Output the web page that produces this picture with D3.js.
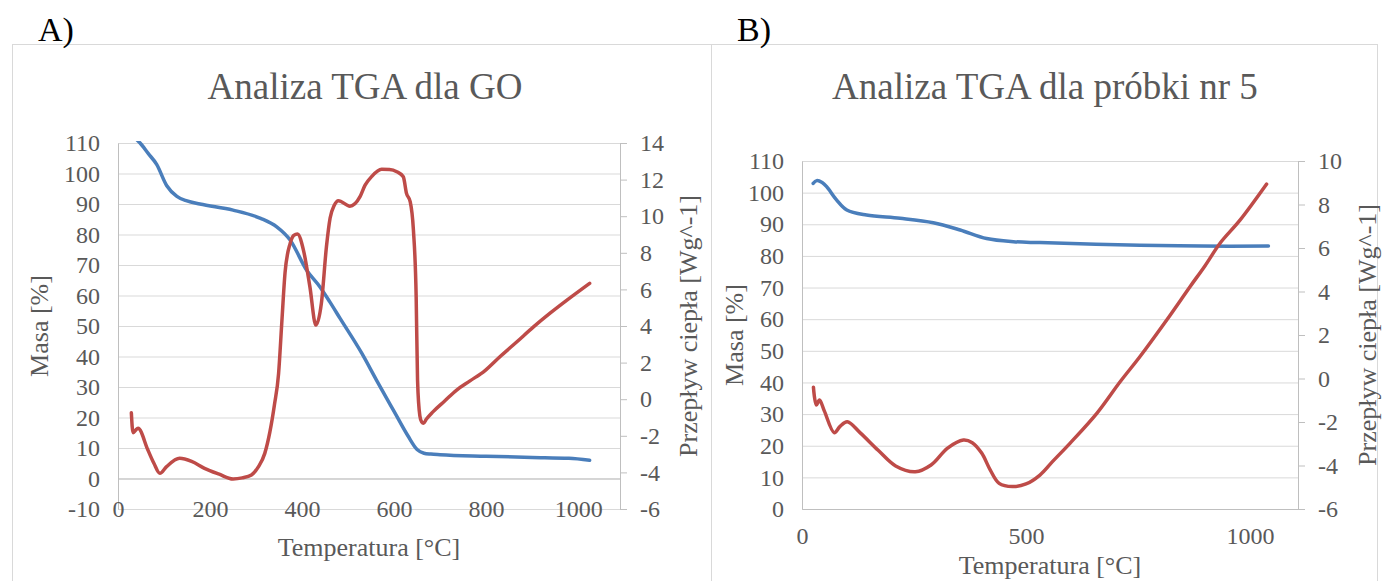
<!DOCTYPE html>
<html>
<head>
<meta charset="utf-8">
<script src="https://cdn.jsdelivr.net/npm/d3@7"></script>
<style>
  body { margin: 0; background: #fff; }
</style>
</head>
<body>
<script>
// A) GO
const tempMassA = [30, 48, 66, 84, 106, 128, 150, 178, 250, 310, 345, 374, 410, 439, 460, 483, 530, 562, 600, 630, 650, 665, 680, 700, 800, 900, 980, 1025];
const massA     = [112.5, 110, 106.5, 103, 96, 92.5, 91, 90, 88, 85.3, 82.5, 78.2, 68.3, 62.8, 58, 52.4, 41, 32.2, 22, 14, 9.5, 8.3, 8, 7.8, 7.3, 6.9, 6.6, 6.0];
const tempHeatA = [29, 32.6, 38, 43.5, 65, 78, 91, 105, 134, 160, 188, 220, 250, 270, 290, 305, 319, 330, 340, 349, 356, 363, 374, 382, 390, 403, 417, 430, 442, 453, 461, 470, 479, 504, 526, 537, 551, 573, 590, 606, 620, 627, 635, 642, 648, 651, 656, 660, 664, 670, 685, 710, 736, 765, 797, 830, 867, 903, 939, 975, 1025];
const heatA     = [-0.74, -1.83, -1.7, -1.59, -2.78, -3.5, -4.05, -3.7, -3.23, -3.4, -3.78, -4.1, -4.36, -4.3, -4.14, -3.7, -2.96, -1.8, -0.3, 1.4, 4.2, 6.9, 8.5, 8.95, 9.03, 8.15, 6.15, 4.05, 5.24, 8.33, 9.9, 10.6, 10.85, 10.55, 11.07, 11.7, 12.16, 12.56, 12.55, 12.43, 12.16, 11.25, 10.8, 9.25, 5.6, 1.05, -0.9, -1.25, -1.32, -1.1, -0.68, -0.1, 0.5, 1.0, 1.55, 2.32, 3.14, 3.95, 4.7, 5.4, 6.33];

// B) próbka nr 5
const tempMassB = [25, 33, 45, 55, 77, 100, 144, 219, 293, 353, 412, 472, 531, 754, 892, 1041];
const massB     = [102.9, 103.8, 103.2, 101.9, 97.7, 94.5, 92.9, 91.9, 90.5, 88.2, 85.5, 84.5, 84.2, 83.4, 83.1, 83.1];
const tempHeatB = [25.5, 32, 39, 50, 72, 85, 101, 130, 170, 209, 253, 288, 325, 360, 380, 401, 420, 440, 470, 500, 531, 560, 598, 658, 710, 754, 814, 866, 900, 933, 978, 1037];
const heatB     = [-0.4, -1.22, -0.99, -1.5, -2.49, -2.2, -1.99, -2.5, -3.3, -4.02, -4.29, -3.98, -3.2, -2.83, -2.95, -3.43, -4.2, -4.82, -4.97, -4.85, -4.44, -3.8, -2.98, -1.6, -0.15, 1.0, 2.69, 4.22, 5.2, 6.22, 7.29, 8.94];

// axis ticks
const massTicksA = [-10, 0, 10, 20, 30, 40, 50, 60, 70, 80, 90, 100, 110];
const heatTicksA = [-6, -4, -2, 0, 2, 4, 6, 8, 10, 12, 14];
const tempTicksA = [0, 200, 400, 600, 800, 1000];
const massTicksB = [0, 10, 20, 30, 40, 50, 60, 70, 80, 90, 100, 110];
const heatTicksB = [-6, -4, -2, 0, 2, 4, 6, 8, 10];
const tempTicksB = [0, 500, 1000];

const titles = ['Analiza TGA dla GO', 'Analiza TGA dla próbki nr 5'];
const panelLabels = ['A)', 'B)'];
const xTitle = 'Temperatura [°C]';
const yTitle = 'Masa [%]';
const y2Title = 'Przepływ ciepła [Wg^-1]';

const blue = '#4a7ebb';
const red = '#be4b48';
const font = '"Liberation Serif", "Times New Roman", serif';

const svg = d3.select('body').append('svg')
  .attr('width', 1393)
  .attr('height', 581);

svg.append('rect').attr('width', 1393).attr('height', 581).attr('fill', '#fff');

function styleText(sel, size) {
  sel.style('font-family', font).style('font-size', size + 'px').attr('fill', '#595959');
}

// plain hyphen for negative labels, like the original
const numFmt = d => String(d);

function drawPanel(p) {
  const g = svg.append('g');

  // frame
  g.append('rect')
    .attr('x', p.frame[0] + 0.5).attr('y', 44.5)
    .attr('width', p.frame[1] - p.frame[0]).attr('height', 700)
    .attr('fill', 'none').attr('stroke', '#d9d9d9');

  g.append('text')
    .attr('x', p.frame[0] + 26).attr('y', 41)
    .call(styleText, 34)
    .attr('fill', '#000')
    .text(p.label);

  const x = d3.scaleLinear().domain(p.xDomain).range([p.left, p.right]);
  const y = d3.scaleLinear().domain(d3.extent(p.massTicks)).range([p.bottom, p.top]);
  const y2 = d3.scaleLinear().domain(d3.extent(p.heatTicks)).range([p.bottom, p.top]);

  // gridlines
  g.append('g')
    .attr('transform', `translate(${p.left},0)`)
    .call(d3.axisLeft(y).tickValues(p.massTicks).tickSize(-(p.right - p.left)).tickFormat(''))
    .call(s => s.select('.domain').remove())
    .call(s => s.selectAll('line').attr('stroke', '#d9d9d9'));

  // left axis
  g.append('g')
    .attr('transform', `translate(${p.left},0)`)
    .call(d3.axisLeft(y).tickValues(p.massTicks).tickFormat(numFmt).tickSize(0).tickPadding(18))
    .call(s => s.select('.domain').attr('stroke', '#bfbfbf'))
    .call(s => s.selectAll('text').call(styleText, 24));

  // right axis
  g.append('g')
    .attr('transform', `translate(${p.right},0)`)
    .call(d3.axisRight(y2).tickValues(p.heatTicks).tickFormat(numFmt).tickSizeInner(7).tickSizeOuter(0).tickPadding(13))
    .call(s => s.select('.domain').attr('stroke', '#bfbfbf'))
    .call(s => s.selectAll('line').attr('stroke', '#bfbfbf'))
    .call(s => s.selectAll('text').call(styleText, 24));

  // bottom axis, crossing at mass = 0
  g.append('g')
    .attr('transform', `translate(0,${y(0)})`)
    .call(d3.axisBottom(x).tickValues(p.tempTicks).tickFormat(numFmt)
      .tickSize(0).tickPadding(p.xPad).tickSizeOuter(0))
    .call(s => s.select('.domain').attr('stroke', '#bfbfbf'))
    .call(s => s.selectAll('text').call(styleText, 24));

  // titles
  g.append('text')
    .attr('x', p.titleX).attr('y', 99)
    .attr('text-anchor', 'middle')
    .call(styleText, 37)
    .text(p.title);

  g.append('text')
    .attr('x', (p.left + p.right) / 2).attr('y', p.xTitleY)
    .attr('text-anchor', 'middle')
    .call(styleText, 26)
    .text(xTitle);

  g.append('text')
    .attr('transform', `translate(${p.yTitleX},${(p.top + p.bottom) / 2}) rotate(-90)`)
    .attr('text-anchor', 'middle')
    .call(styleText, 26)
    .text(yTitle);

  g.append('text')
    .attr('transform', `translate(${p.y2TitleX},${(p.top + p.bottom) / 2}) rotate(-90)`)
    .attr('text-anchor', 'middle')
    .call(styleText, 26)
    .text(y2Title);

  // curves
  const clipId = 'clip' + p.label[0];
  svg.append('clipPath').attr('id', clipId)
    .append('rect')
    .attr('x', p.left).attr('y', p.top - 2)
    .attr('width', p.right - p.left).attr('height', p.bottom - p.top + 4);

  const plot = g.append('g').attr('clip-path', `url(#${clipId})`);

  const massLine = d3.line().x(d => x(d[0])).y(d => y(d[1])).curve(p.curve);
  const heatLine = d3.line().x(d => x(d[0])).y(d => y2(d[1])).curve(p.curve);

  plot.append('path')
    .datum(d3.zip(p.tempMass, p.mass))
    .attr('d', massLine)
    .attr('fill', 'none').attr('stroke', blue)
    .attr('stroke-width', 3.5).attr('stroke-linecap', 'round').attr('stroke-linejoin', 'round');

  plot.append('path')
    .datum(d3.zip(p.tempHeat, p.heat))
    .attr('d', heatLine)
    .attr('fill', 'none').attr('stroke', red)
    .attr('stroke-width', 3.5).attr('stroke-linecap', 'round').attr('stroke-linejoin', 'round');
}

drawPanel({
  label: panelLabels[0], title: titles[0], frame: [12, 711],
  left: 118, right: 620, top: 143, bottom: 509, xDomain: [0, 1091],
  massTicks: massTicksA, heatTicks: heatTicksA, tempTicks: tempTicksA,
  tempMass: tempMassA, mass: massA, tempHeat: tempHeatA, heat: heatA,
  curve: d3.curveMonotoneX,
  xPad: 21, titleX: 365, xTitleY: 556, yTitleX: 48, y2TitleX: 697
});

drawPanel({
  label: panelLabels[1], title: titles[1], frame: [711, 1377],
  left: 802, right: 1298, top: 161, bottom: 509, xDomain: [0, 1107],
  massTicks: massTicksB, heatTicks: heatTicksB, tempTicks: tempTicksB,
  tempMass: tempMassB, mass: massB, tempHeat: tempHeatB, heat: heatB,
  curve: d3.curveCatmullRom.alpha(0.5),
  xPad: 18, titleX: 1045, xTitleY: 574, yTitleX: 743, y2TitleX: 1376
});
</script>
</body>
</html>
